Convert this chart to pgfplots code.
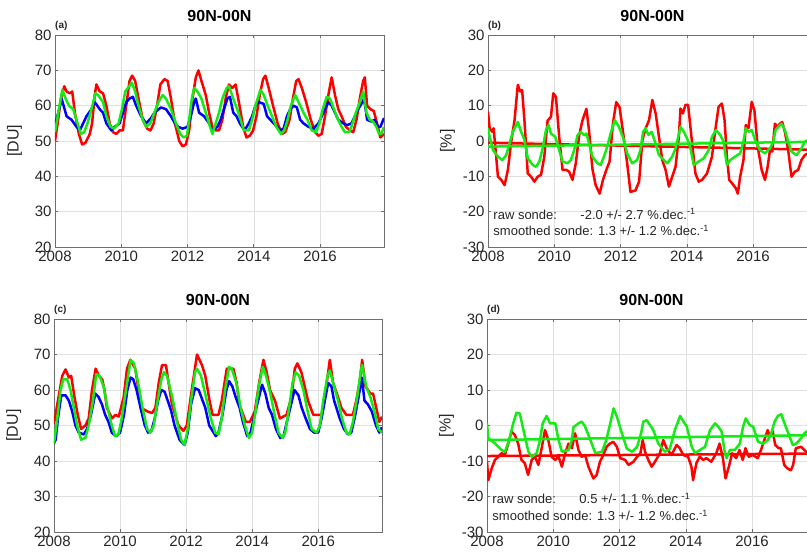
\documentclass[border=0pt]{standalone}
\usepackage{fontspec}
\setmainfont{Liberation Sans}
\usepackage{pgfplots}
\pgfplotsset{compat=1.18}
\definecolor{mred}{RGB}{255,0,0}
\definecolor{mblue}{RGB}{0,0,255}
\definecolor{mgreen}{RGB}{20,235,20}
\definecolor{axgray}{RGB}{110,110,110}
\definecolor{txt}{RGB}{38,38,38}
\pgfplotsset{
 panel/.style={
  scale only axis, width=329pt, height=212pt,
  xmin=2008, xmax=2017.93,
  xtick={2008,2010,2012,2014,2016},
  grid=major, major grid style={black!12, line width=0.5pt},
  tick align=inside, major tick length=3pt,
  axis line style={axgray, line width=0.6pt},
  tick style={axgray, line width=0.6pt},
  tick label style={font=\fontsize{15}{15}\selectfont, text=txt},
  /pgf/number format/assume math mode=true,
  /pgf/number format/1000 sep={},
  title style={at={(0.5,1)}, anchor=base, yshift=7pt, inner sep=0pt, font=\fontsize{16}{16}\selectfont\bfseries, text=black},
  ylabel style={at={(axis description cs:-0.123,0.5)}, anchor=center, font=\fontsize{16}{16}\selectfont, text=txt},
  every axis plot/.append style={line width=2.5pt, line join=round, no markers},
 },
 du/.style={ymin=20, ymax=80, ytick={20,30,...,80}, ylabel={[DU]}},
 pc/.style={ymin=-30, ymax=30, ytick={-30,-20,...,30}, ylabel={[\%]}},
}
\newcommand{\plab}[1]{\node[anchor=base west, inner sep=0pt, font=\fontsize{10}{10}\selectfont\bfseries, text=txt, yshift=6pt] at (0,1) {#1};}
\newcommand{\annot}[2]{%
 \node[anchor=base west, inner sep=0pt, font=\fontsize{13}{13}\selectfont, text=txt] at (0.016,0.132) {\makebox[87pt][l]{raw sonde:}#1 +/- #2 \%.dec.\textsuperscript{-1}};
 \node[anchor=base west, inner sep=0pt, font=\fontsize{13}{13}\selectfont, text=txt] at (0.016,0.054) {smoothed sonde: 1.3 +/- 1.2 \%.dec.\textsuperscript{-1}};}
\begin{document}
\begin{tikzpicture}[x=1pt,y=1pt]
% ---------------- (a)
\begin{axis}[panel, du, at={(55pt,310pt)}, anchor=south west, title={90N-00N},
  extra description/.code={\plab{(a)}}]
\addplot[mred] coordinates {(2008.00,50)(2008.08,55)(2008.18,62)(2008.28,65.5)(2008.35,64)(2008.45,63.5)(2008.52,64)(2008.60,58)(2008.72,52)(2008.82,49)(2008.92,49.5)(2009.05,52)(2009.12,55)(2009.20,63)(2009.25,66)(2009.35,64)(2009.45,63.5)(2009.55,60)(2009.65,55)(2009.75,52.5)(2009.85,52)(2009.95,53)(2010.05,53)(2010.15,60)(2010.25,67)(2010.33,68.5)(2010.42,67)(2010.52,62)(2010.65,56)(2010.78,53.5)(2010.88,53)(2010.98,55)(2011.08,60)(2011.18,66)(2011.30,67.5)(2011.40,67)(2011.50,62)(2011.62,55)(2011.75,50)(2011.85,48.5)(2011.95,49)(2012.05,53)(2012.15,62)(2012.25,68)(2012.33,70)(2012.42,67)(2012.55,63)(2012.65,58)(2012.75,54)(2012.85,53)(2012.95,53)(2013.05,56)(2013.15,62)(2013.25,66)(2013.35,65)(2013.45,66)(2013.55,61)(2013.68,54)(2013.78,51)(2013.88,51.5)(2013.98,53)(2014.08,57)(2014.18,63)(2014.28,67.5)(2014.35,68.5)(2014.45,65)(2014.58,60)(2014.72,55)(2014.85,52)(2014.95,52.5)(2015.08,56)(2015.18,62)(2015.28,67)(2015.35,67.5)(2015.45,65)(2015.58,61)(2015.72,56)(2015.85,52.5)(2015.95,51.5)(2016.05,52)(2016.15,57)(2016.25,63)(2016.35,68)(2016.45,63)(2016.55,59)(2016.65,57)(2016.78,54)(2016.90,53)(2017.00,52.5)(2017.10,56)(2017.20,62)(2017.30,67)(2017.35,68)(2017.42,60)(2017.52,59)(2017.62,58.5)(2017.72,55)(2017.82,51)(2017.93,52)};
\addplot[mblue] coordinates {(2008.0,54.5)(2008.1,58)(2008.2,62)(2008.35,57)(2008.5,56)(2008.65,54)(2008.75,53)(2008.85,55)(2008.95,57)(2009.1,59)(2009.2,61)(2009.35,59)(2009.45,58)(2009.55,55)(2009.7,53)(2009.8,54)(2009.95,55)(2010.05,58)(2010.15,61)(2010.25,62)(2010.35,62.5)(2010.45,60)(2010.6,57)(2010.75,55)(2010.9,56.5)(2011.0,58)(2011.2,59.5)(2011.35,59)(2011.5,57)(2011.62,55)(2011.72,54)(2011.85,53.5)(2012.0,54)(2012.1,57)(2012.2,61)(2012.25,62)(2012.35,58)(2012.5,57)(2012.65,55)(2012.75,53)(2012.9,54)(2013.0,56)(2013.1,59)(2013.2,62)(2013.28,62.5)(2013.38,58)(2013.48,57)(2013.58,55)(2013.72,53)(2013.85,55)(2013.95,57)(2014.05,60)(2014.15,61)(2014.3,60.5)(2014.4,57)(2014.55,55.5)(2014.7,54)(2014.8,53)(2014.9,53.5)(2015.0,57)(2015.1,59)(2015.2,60)(2015.3,59.5)(2015.4,56)(2015.5,55)(2015.65,54)(2015.8,53.5)(2015.95,55)(2016.05,57)(2016.15,59)(2016.25,61)(2016.35,60)(2016.45,58)(2016.55,56)(2016.7,55)(2016.82,54.5)(2016.95,55)(2017.05,57)(2017.15,59)(2017.28,61)(2017.33,62)(2017.42,56)(2017.55,55.5)(2017.65,56)(2017.75,54)(2017.82,54)(2017.93,56.5)};
\addplot[mgreen] coordinates {(2008.0,52.5)(2008.1,58)(2008.22,64.5)(2008.32,62)(2008.42,60)(2008.55,59)(2008.68,55)(2008.78,52)(2008.88,52.5)(2008.98,55)(2009.1,59)(2009.22,63.5)(2009.3,63)(2009.45,61)(2009.55,57)(2009.68,54)(2009.78,53.5)(2009.92,55)(2010.02,59)(2010.12,64)(2010.2,65)(2010.32,66.5)(2010.42,64)(2010.52,60)(2010.65,56)(2010.75,54)(2010.88,55)(2011.0,58)(2011.12,61)(2011.25,63)(2011.35,62)(2011.5,59)(2011.65,55)(2011.78,52)(2011.88,51)(2011.98,51.5)(2012.05,56)(2012.13,62)(2012.2,65)(2012.3,64)(2012.42,62)(2012.55,58)(2012.65,55)(2012.75,52)(2012.85,55)(2012.95,58)(2013.05,62)(2013.18,65)(2013.25,65.5)(2013.38,62)(2013.5,59)(2013.6,56)(2013.7,53)(2013.85,53)(2013.95,56)(2014.05,60)(2014.2,64.5)(2014.3,63)(2014.42,60)(2014.55,57)(2014.68,54)(2014.82,52)(2014.92,53)(2015.02,56)(2015.12,60)(2015.25,63)(2015.35,61)(2015.5,58)(2015.62,56)(2015.75,53)(2015.88,52.5)(2015.98,55)(2016.08,59)(2016.2,62.5)(2016.3,62)(2016.42,59)(2016.52,56.5)(2016.65,54)(2016.75,52.5)(2016.88,52.5)(2016.98,55)(2017.08,58)(2017.2,61)(2017.3,64)(2017.4,58)(2017.5,56)(2017.6,55.5)(2017.7,54)(2017.78,52)(2017.85,52)(2017.93,54)};
\end{axis}
% ---------------- (b)
\begin{axis}[panel, pc, at={(488pt,310pt)}, anchor=south west, title={90N-00N},
  extra description/.code={\plab{(b)}\annot{-2.0}{2.7}}]
\addplot[mred] coordinates {(2008.0,8.3)(2008.05,3.6)(2008.13,2.6)(2008.17,3.6)(2008.23,-2.6)(2008.3,-10.1)(2008.4,-11.0)(2008.5,-12.5)(2008.6,-8.2)(2008.7,-0.2)(2008.8,5.8)(2008.9,15.9)(2008.97,14)(2009.03,14.4)(2009.1,5.8)(2009.2,-9.2)(2009.3,-10.1)(2009.4,-11.5)(2009.5,-10.1)(2009.6,-9.6)(2009.7,-4.4)(2009.8,5.8)(2009.9,6.8)(2009.97,13.5)(2010.05,12.5)(2010.15,1.0)(2010.25,-8.2)(2010.37,-8.2)(2010.45,-8.7)(2010.55,-11.0)(2010.65,-6.3)(2010.75,1.5)(2010.85,5.8)(2010.97,9.1)(2011.05,2.9)(2011.15,-7.8)(2011.25,-12.5)(2011.37,-14.9)(2011.47,-11.0)(2011.57,-8.2)(2011.67,-5.8)(2011.77,4.9)(2011.87,11.0)(2011.97,9.6)(2012.07,2.9)(2012.2,-6.3)(2012.3,-14.4)(2012.45,-14.0)(2012.56,-11.5)(2012.62,-4.4)(2012.66,0.3)(2012.76,3.6)(2012.86,5.9)(2012.96,11.6)(2013.06,7.8)(2013.16,1.2)(2013.26,-5.4)(2013.36,-8.2)(2013.46,-12.9)(2013.56,-10.1)(2013.66,-7.3)(2013.76,1.2)(2013.81,9.2)(2013.88,7.8)(2013.96,10.2)(2014.04,10.2)(2014.14,1.2)(2014.26,-9.2)(2014.36,-11.5)(2014.46,-11.0)(2014.61,-9.2)(2014.76,-4.4)(2014.86,3.1)(2014.96,9.7)(2015.06,10.6)(2015.14,5.9)(2015.21,-4.4)(2015.28,-11.0)(2015.41,-12.5)(2015.48,-13.4)(2015.54,-14.9)(2015.61,-10.1)(2015.71,-5.4)(2015.78,4.5)(2015.86,3.6)(2015.96,11.1)(2016.04,8.7)(2016.14,-1.6)(2016.26,-8.2)(2016.36,-11.0)(2016.44,-7.3)(2016.51,-2.6)(2016.58,-3.0)(2016.66,4.9)(2016.74,4.0)(2016.81,4.9)(2016.88,5.4)(2016.96,2.6)(2017.06,-2.6)(2017.16,-10.1)(2017.26,-8.7)(2017.36,-8.2)(2017.46,-5.4)(2017.56,-4.0)(2017.66,-3.5)};
\addplot[mred] coordinates {(2008,-0.5)(2017.93,-2.5)};
\addplot[mgreen] coordinates {(2008.0,3.6)(2008.05,1.2)(2008.15,-2.6)(2008.3,-4.4)(2008.43,-5.4)(2008.55,-4.0)(2008.65,-0.7)(2008.75,2.6)(2008.9,5.4)(2009.0,2.6)(2009.1,0.3)(2009.2,-4.9)(2009.35,-6.8)(2009.45,-7.3)(2009.55,-5.8)(2009.65,-2.1)(2009.75,3.1)(2009.83,4.5)(2009.9,2.1)(2010.03,1.2)(2010.15,-2.6)(2010.25,-5.8)(2010.4,-6.3)(2010.5,-5.4)(2010.6,-2.6)(2010.7,1.6)(2010.8,2.6)(2010.9,1.6)(2010.97,2.1)(2011.05,-0.7)(2011.15,-4.4)(2011.3,-6.3)(2011.4,-6.8)(2011.5,-4.4)(2011.6,-1.6)(2011.7,2.1)(2011.83,5.9)(2011.95,4.0)(2012.07,1.2)(2012.2,-3.5)(2012.35,-6.3)(2012.5,-5.4)(2012.6,-2.6)(2012.68,2.6)(2012.76,3.6)(2012.84,1.7)(2012.94,2.6)(2013.04,-0.2)(2013.16,-4.0)(2013.31,-5.4)(2013.41,-6.3)(2013.56,-4.4)(2013.66,-2.1)(2013.81,4.0)(2013.91,2.6)(2014.01,0.7)(2014.11,-2.1)(2014.21,-6.8)(2014.36,-5.8)(2014.51,-4.9)(2014.66,-2.6)(2014.76,1.2)(2014.88,3.1)(2015.01,1.7)(2015.11,-0.2)(2015.21,-6.8)(2015.31,-5.4)(2015.46,-4.4)(2015.61,-3.5)(2015.71,-0.2)(2015.78,3.6)(2015.86,2.6)(2015.96,3.1)(2016.06,0.3)(2016.21,-2.6)(2016.36,-3.5)(2016.51,-2.1)(2016.61,-0.2)(2016.68,3.1)(2016.76,4.0)(2016.86,4.9)(2016.96,3.1)(2017.06,-0.2)(2017.16,-3.0)(2017.31,-4.0)(2017.46,-2.1)(2017.56,-0.2)(2017.66,0.3)};
\addplot[mgreen] coordinates {(2008,-1.6)(2017.93,-0.2)};
\end{axis}
% ---------------- (c)
\begin{axis}[panel, du, width=328pt, height=213pt, at={(54pt,25pt)}, anchor=south west, title={90N-00N},
  extra description/.code={\plab{(c)}}]
\addplot[mred] coordinates {(2008.0,50.5)(2008.1,56)(2008.25,64)(2008.35,65.8)(2008.45,63.5)(2008.52,64)(2008.62,58)(2008.72,53)(2008.82,49)(2008.95,50)(2009.05,52)(2009.15,60)(2009.26,66)(2009.36,64)(2009.46,63)(2009.53,60)(2009.6,55)(2009.76,52)(2009.86,53)(2009.96,52.5)(2010.11,58)(2010.21,66)(2010.31,68.5)(2010.46,66)(2010.56,60)(2010.63,55)(2010.82,54)(2010.97,53.5)(2011.07,55)(2011.17,62)(2011.27,67)(2011.39,67)(2011.47,62)(2011.57,56)(2011.77,50)(2011.92,48.5)(2012.02,50)(2012.17,60)(2012.33,70)(2012.48,67)(2012.58,64)(2012.71,57)(2012.8,53)(2012.98,53)(2013.08,57)(2013.23,66)(2013.43,66)(2013.53,62)(2013.61,56)(2013.81,51)(2013.93,51)(2014.08,54)(2014.21,62)(2014.34,68.5)(2014.44,65)(2014.54,60)(2014.69,57)(2014.84,52)(2015.04,53)(2015.19,58)(2015.29,66)(2015.37,67.5)(2015.49,65)(2015.59,61)(2015.69,57)(2015.85,53)(2016.1,53)(2016.2,58)(2016.35,68.5)(2016.45,62)(2016.6,58)(2016.7,55)(2016.85,53)(2017.05,53)(2017.15,57)(2017.25,62)(2017.33,68.5)(2017.43,61)(2017.58,59)(2017.66,59)(2017.78,54)(2017.85,51)(2017.93,52.5)};
\addplot[mblue] coordinates {(2008.0,45)(2008.05,46)(2008.12,52)(2008.22,58.5)(2008.35,58.5)(2008.45,57)(2008.55,54)(2008.65,50)(2008.75,48)(2008.9,47.5)(2009.0,49)(2009.12,53)(2009.25,59)(2009.35,58)(2009.45,56)(2009.55,53)(2009.65,51)(2009.75,48)(2009.88,47)(2010.0,48)(2010.12,53)(2010.22,60)(2010.32,63.5)(2010.4,63)(2010.5,60)(2010.62,55)(2010.75,50)(2010.85,48)(2010.95,48.5)(2011.05,52)(2011.15,57)(2011.25,60)(2011.35,59.5)(2011.48,56)(2011.55,54)(2011.65,50)(2011.8,46)(2011.95,44.5)(2012.05,48)(2012.15,56)(2012.27,60.5)(2012.38,60)(2012.5,57)(2012.58,55)(2012.7,50)(2012.9,47)(2012.98,48)(2013.1,53)(2013.22,60)(2013.3,62.5)(2013.4,61)(2013.5,58)(2013.62,55)(2013.72,51)(2013.85,47)(2013.95,48)(2014.05,52)(2014.18,57)(2014.3,61.5)(2014.4,59)(2014.5,55)(2014.6,53)(2014.72,49)(2014.85,46.5)(2014.95,47)(2015.05,51)(2015.18,56)(2015.28,60)(2015.4,58.5)(2015.5,55)(2015.62,52)(2015.75,49)(2015.88,48)(2016.0,48)(2016.1,52)(2016.2,57)(2016.3,62)(2016.4,61)(2016.48,57)(2016.55,55)(2016.65,52)(2016.78,49)(2016.9,47.5)(2017.0,48)(2017.1,52)(2017.22,58)(2017.32,63.5)(2017.4,57)(2017.5,56)(2017.62,54)(2017.75,50)(2017.85,48)(2017.93,49.5)};
\addplot[mgreen] coordinates {(2008.0,45)(2008.1,52)(2008.2,60)(2008.28,63)(2008.4,63)(2008.5,60)(2008.6,55)(2008.7,50)(2008.82,46)(2008.95,46.5)(2009.05,50)(2009.18,57)(2009.28,64.5)(2009.38,64)(2009.5,61)(2009.62,55)(2009.75,50)(2009.85,47)(2009.95,47.5)(2010.05,52)(2010.18,60)(2010.32,68.5)(2010.42,67.5)(2010.55,62)(2010.68,55)(2010.82,49)(2010.92,48)(2011.02,50)(2011.12,56)(2011.25,63)(2011.33,65)(2011.42,64)(2011.58,58)(2011.75,50)(2011.85,46)(2011.95,44.5)(2012.05,49)(2012.15,57)(2012.27,65)(2012.33,66)(2012.45,64)(2012.6,58)(2012.75,52)(2012.88,48)(2012.98,47.5)(2013.08,52)(2013.18,60)(2013.3,66.5)(2013.38,66)(2013.52,62)(2013.65,55)(2013.78,50)(2013.9,46.5)(2014.0,48)(2014.1,54)(2014.2,61)(2014.32,66.5)(2014.42,64)(2014.55,59)(2014.68,53)(2014.8,48)(2014.92,46.5)(2015.0,48)(2015.12,55)(2015.22,62)(2015.32,65)(2015.42,64)(2015.55,60)(2015.68,54)(2015.8,49)(2015.95,48)(2016.05,50)(2016.15,57)(2016.28,64)(2016.35,65.5)(2016.48,61)(2016.6,57)(2016.72,52)(2016.85,48)(2016.95,47.5)(2017.05,51)(2017.18,58)(2017.3,66)(2017.33,67)(2017.45,61)(2017.58,58)(2017.7,54)(2017.82,49)(2017.93,48)};
\end{axis}
% ---------------- (d)
\begin{axis}[panel, pc, height=213pt, at={(487pt,25pt)}, anchor=south west, title={90N-00N},
  extra description/.code={\plab{(d)}\annot{0.5}{1.1}}]
\addplot[mred] coordinates {(2008.0,-10.2)(2008.04,-15.4)(2008.14,-12.1)(2008.24,-9.7)(2008.34,-8.8)(2008.44,-7.8)(2008.54,-8.3)(2008.64,-5.1)(2008.74,-1.7)(2008.84,-2.7)(2008.94,-5.1)(2009.04,-9.7)(2009.14,-10.6)(2009.24,-13.9)(2009.35,-9.7)(2009.45,-8.8)(2009.55,-11.1)(2009.65,-6.4)(2009.75,-1.3)(2009.85,-4.1)(2009.95,-8.8)(2010.06,-9.7)(2010.16,-8.8)(2010.26,-11.6)(2010.36,-7.8)(2010.46,-5.1)(2010.56,-6.4)(2010.66,-2.2)(2010.76,-6.9)(2010.86,-8.8)(2010.96,-8.3)(2011.06,-11.6)(2011.21,-14.9)(2011.31,-13.9)(2011.41,-10.2)(2011.51,-8.3)(2011.61,-6.0)(2011.71,-5.1)(2011.81,-4.6)(2011.92,-6.0)(2012.02,-9.2)(2012.17,-9.7)(2012.27,-11.1)(2012.42,-10.2)(2012.53,-8.8)(2012.63,-7.8)(2012.7,-4.1)(2012.77,-7.4)(2012.87,-9.7)(2012.97,-11.6)(2013.07,-10.2)(2013.22,-7.8)(2013.32,-4.1)(2013.42,-6.4)(2013.57,-8.3)(2013.72,-5.5)(2013.82,-6.4)(2013.92,-8.3)(2014.07,-8.8)(2014.17,-11.6)(2014.22,-15.4)(2014.32,-10.6)(2014.42,-8.8)(2014.52,-9.7)(2014.62,-9.2)(2014.77,-10.2)(2014.92,-7.8)(2015.02,-5.1)(2015.12,-9.2)(2015.2,-14.9)(2015.3,-11.6)(2015.4,-7.8)(2015.52,-9.2)(2015.62,-6.9)(2015.72,-9.7)(2015.8,-6.4)(2015.9,-8.8)(2016.02,-8.3)(2016.17,-9.2)(2016.27,-6.9)(2016.37,-4.1)(2016.47,-1.3)(2016.54,-3.1)(2016.62,-1.5)(2016.7,-5.5)(2016.8,-6.4)(2016.87,-6.4)(2016.97,-11.1)(2017.07,-12.1)(2017.17,-12.6)(2017.24,-11.1)(2017.32,-6.4)(2017.48,-6.0)(2017.58,-6.9)(2017.7,-8)};
\addplot[mred] coordinates {(2008,-8.6)(2017.93,-7.9)};
\addplot[mgreen] coordinates {(2008.0,0.6)(2008.04,-3.6)(2008.24,-5.0)(2008.44,-6.9)(2008.54,-7.4)(2008.67,-4.1)(2008.79,0.6)(2008.89,3.6)(2008.99,3.4)(2009.1,-1.3)(2009.25,-7.4)(2009.35,-8.8)(2009.5,-7.8)(2009.6,-4.1)(2009.68,0.6)(2009.8,2.7)(2009.9,0.6)(2010.06,0.6)(2010.16,-4.1)(2010.26,-7.4)(2010.46,-6.9)(2010.56,-4.1)(2010.61,-0.5)(2010.76,0.6)(2010.86,1.1)(2010.96,-0.3)(2011.12,-4.1)(2011.27,-7.8)(2011.47,-7.4)(2011.6,-4.1)(2011.72,0.6)(2011.82,4.8)(2011.92,2.5)(2012.07,-2.2)(2012.22,-6.5)(2012.38,-7.4)(2012.53,-6.0)(2012.65,-2.2)(2012.72,1.1)(2012.82,1.5)(2012.92,0.1)(2013.02,-1.3)(2013.17,-5.1)(2013.37,-7.4)(2013.52,-6.5)(2013.67,-1.3)(2013.83,2.7)(2013.93,1.1)(2014.03,-0.3)(2014.18,-6.0)(2014.28,-7.8)(2014.43,-6.9)(2014.58,-6.0)(2014.73,-1.3)(2014.88,0.6)(2014.98,-0.3)(2015.08,-1.7)(2015.18,-7.8)(2015.23,-9.2)(2015.33,-6.9)(2015.48,-6.9)(2015.63,-5.1)(2015.73,-0.3)(2015.81,2.0)(2015.93,0.1)(2016.03,-0.3)(2016.18,-4.6)(2016.33,-5.1)(2016.48,-4.1)(2016.58,-2.2)(2016.68,1.1)(2016.78,2.7)(2016.88,3.2)(2016.98,0.6)(2017.13,-3.1)(2017.23,-5.5)(2017.33,-5.1)(2017.48,-3.6)(2017.58,-2.2)(2017.68,-1.5)};
\addplot[mgreen] coordinates {(2008,-4.1)(2017.93,-2.7)};
\end{axis}
\pgfresetboundingbox
\path[use as bounding box] (0,0) rectangle (807,557);
\end{tikzpicture}
\end{document}
